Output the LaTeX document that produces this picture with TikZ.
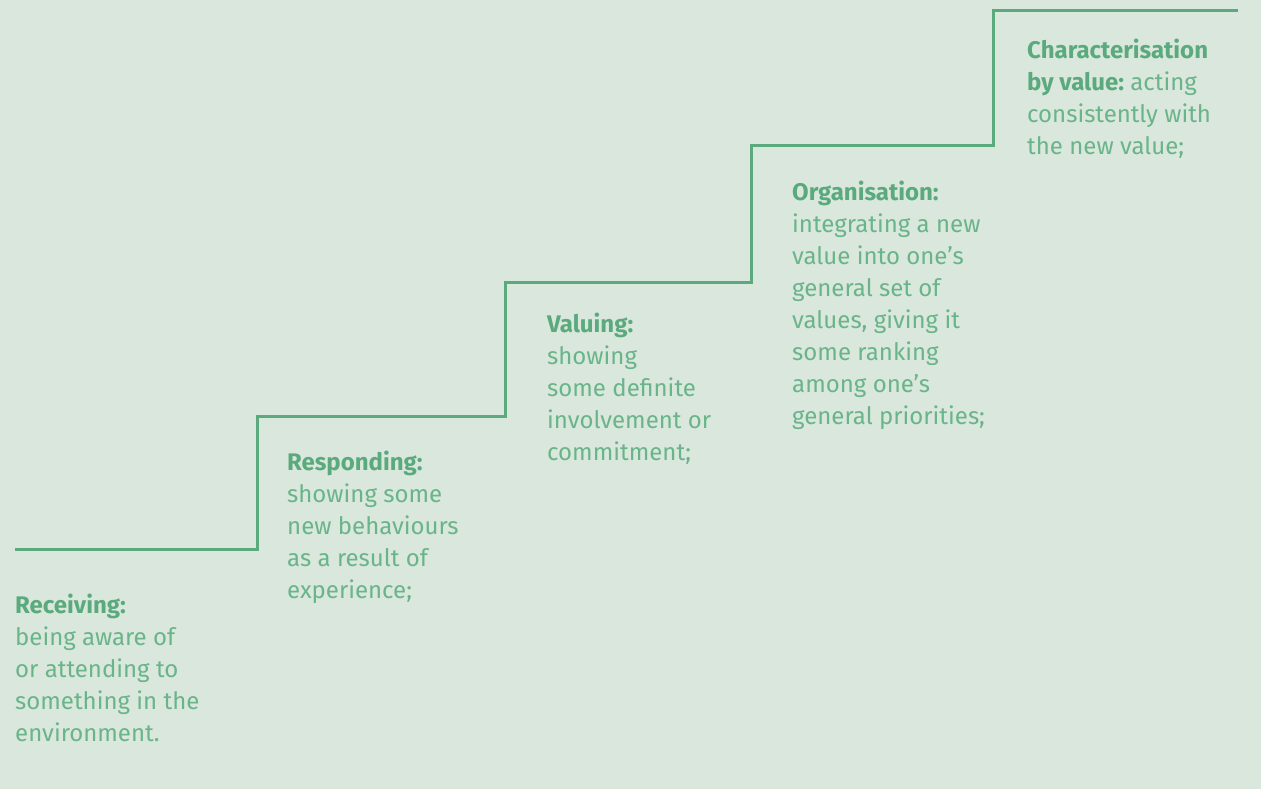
\documentclass[tikz,border=0pt]{standalone}
\usepackage{fontspec}
\setmainfont{Fira Sans}
\frenchspacing
\definecolor{bgc}{HTML}{D9E7DC}
\definecolor{grn}{HTML}{5AAA7E}
\definecolor{txt}{HTML}{6AB48A}
\begin{document}
\begin{tikzpicture}[x=1pt,y=-1pt,
  stair/.style={draw=grn,line width=3pt},
  blk/.style={anchor=base west,inner sep=0pt,align=left,text=txt,
    font=\fontsize{24}{32}\selectfont\frenchspacing}]
\fill[bgc] (0,0) rectangle (1261,789);
\useasboundingbox (0,0) rectangle (1261,789);
\coordinate (s0) at (15,549);
\coordinate (s1) at (257,549);
\coordinate (s2) at (257,416);
\coordinate (s3) at (505,416);
\coordinate (s4) at (505,282);
\coordinate (s5) at (751,282);
\coordinate (s6) at (751,146);
\coordinate (s7) at (993,146);
\coordinate (s8) at (993,11);
\coordinate (s9) at (1238,11);
\draw[stair] (s0) -- (s1) -- (s2) -- (s3) -- (s4) -- (s5) -- (s6) -- (s7) -- (s8) -- (s9);
\newcommand{\hd}[1]{\textcolor{grn}{\textbf{#1}}}
\node[blk] (rec) at (15,741) {\hd{Receiving:}\\being aware of\\or attending to\\something in the\\environment.};
\node[blk] (res) at (287,598) {\hd{Responding:}\\showing some\\new behaviours\\as a result of\\experience;};
\node[blk] (val) at (547,460) {\hd{Valuing:}\\showing\\some definite\\involvement or\\commitment;};
\node[blk] (org) at (792,424) {\hd{Organisation:}\\integrating a new\\value into one’s\\general set of\\values, giving it\\some ranking\\among one’s\\general priorities;};
\node[blk] (cha) at (1027,154) {\hd{Characterisation}\\\hd{by value:} acting\\consistently with\\the new value;};
\end{tikzpicture}
\end{document}
